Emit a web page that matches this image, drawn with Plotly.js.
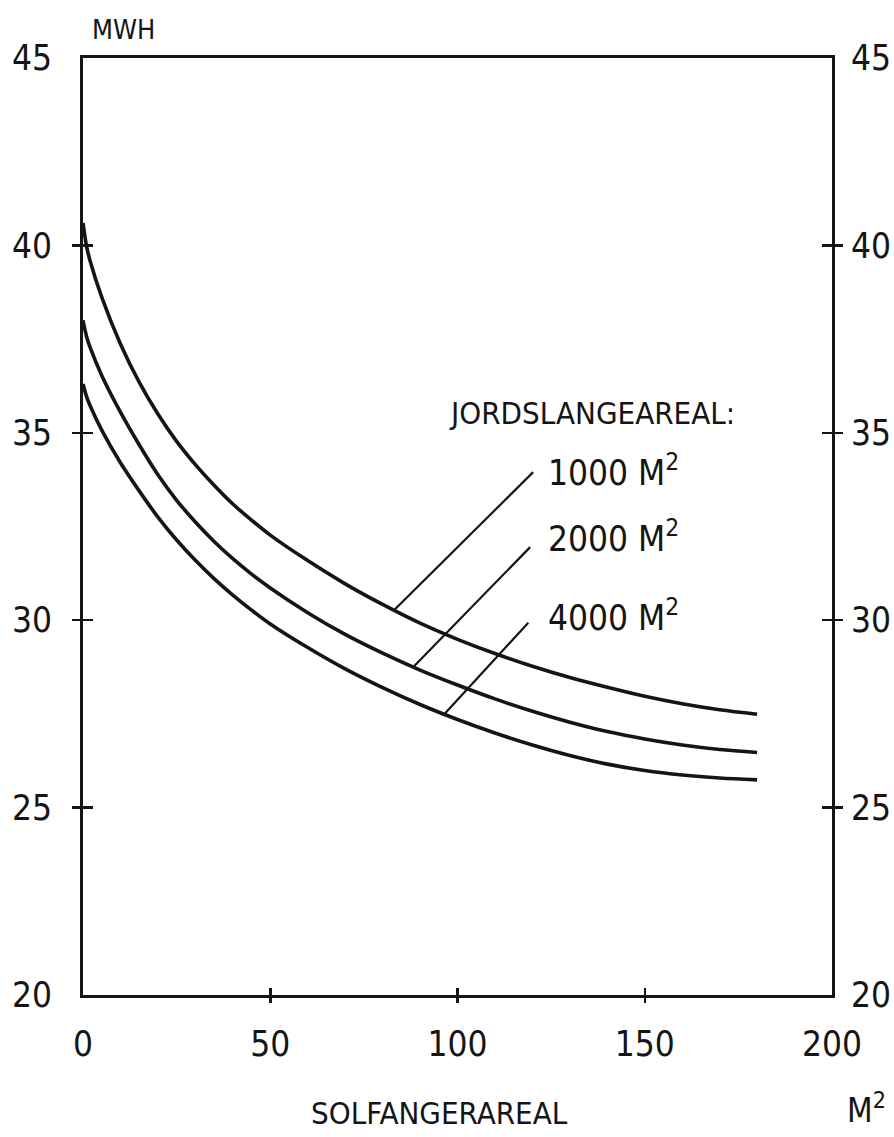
<!DOCTYPE html>
<html>
<head>
<meta charset="utf-8">
<script src="https://cdn.plot.ly/plotly-3.0.1.min.js"></script>
<style>
  html, body { margin: 0; padding: 0; background: #ffffff; }
  #chart { width: 894px; height: 1137px; }
</style>
</head>
<body>
<div id="chart"></div>
<script>
// ---- data ----
const solfangerAreal = [0, 1, 2, 5, 10, 15, 20, 25, 30, 35, 40, 45, 50, 60, 70, 80, 90, 100, 110, 120, 130, 140, 150, 160, 170, 180];
const mwh1000 = [40.6, 39.95, 39.55, 38.62, 37.37, 36.35, 35.5, 34.77, 34.15, 33.6, 33.1, 32.67, 32.27, 31.59, 30.97, 30.42, 29.92, 29.49, 29.11, 28.77, 28.47, 28.21, 27.97, 27.77, 27.61, 27.49];
const mwh2000 = [38.0, 37.55, 37.25, 36.53, 35.55, 34.68, 33.88, 33.2, 32.62, 32.1, 31.64, 31.23, 30.86, 30.2, 29.62, 29.12, 28.67, 28.27, 27.9, 27.57, 27.28, 27.03, 26.83, 26.67, 26.55, 26.47];
const mwh4000 = [36.3, 35.95, 35.7, 35.07, 34.2, 33.45, 32.75, 32.14, 31.6, 31.11, 30.67, 30.27, 29.9, 29.27, 28.7, 28.2, 27.75, 27.35, 26.99, 26.67, 26.39, 26.16, 25.99, 25.87, 25.79, 25.74];
const seriesLabels = ['1000 M<sup>2</sup>', '2000 M<sup>2</sup>', '4000 M<sup>2</sup>'];
const xTickVals = [0, 50, 100, 150, 200];
const xInnerTicks = [50, 100, 150];
const yTickVals = [20, 25, 30, 35, 40, 45];
const yInnerTicks = [25, 30, 35, 40];
// leader lines: point on curve -> label end
const leaderCurveX = [82.9, 88.2, 96.7];
const leaderCurveY = [30.25, 28.75, 27.52];
const leaderLabelX = [120.2, 119.4, 118.9];
const leaderLabelY = [33.95, 31.95, 29.93];
const labelTextX = [123.5, 123.5, 123.5];
const labelTextY = [34.0, 32.25, 30.15];

// ---- styling ----
const FONT = 'Liberation Sans Narrow, DejaVu Sans Condensed, Arial Narrow, sans-serif';
const INK = '#151515';

const curveData = [mwh1000, mwh2000, mwh4000];
const traces = curveData.map((ys, i) => ({
  x: solfangerAreal, y: ys, type: 'scatter', mode: 'lines',
  line: { color: INK, width: 3.6, shape: 'spline', smoothing: 0.9 },
  hoverinfo: 'skip', showlegend: false, name: seriesLabels[i]
}));

// hidden helper traces so the tick-only overlay axes exist
const helperPairs = [['x2','y'],['x3','y'],['x','y2'],['x','y3'],['x','y4'],['x','y5'],['x','y6']];
helperPairs.forEach(p => traces.push({
  x: [null], y: [null], xaxis: p[0], yaxis: p[1], type: 'scatter', mode: 'lines',
  hoverinfo: 'skip', showlegend: false
}));

const baseAxis = { showgrid: false, zeroline: false, fixedrange: true };
const tickOnlyX = (dir) => Object.assign({}, baseAxis, {
  overlaying: 'x', anchor: 'y', side: 'bottom', range: [0, 200],
  tickmode: 'array', tickvals: xInnerTicks, ticks: dir, ticklen: 7, tickwidth: 2.5, tickcolor: INK,
  showticklabels: false, showline: false
});
const tickOnlyY = (side, dir) => Object.assign({}, baseAxis, {
  overlaying: 'y', anchor: 'x', side: side, range: [20, 45],
  tickmode: 'array', tickvals: yInnerTicks, ticks: dir, ticklen: 10, tickwidth: 2.5, tickcolor: INK,
  showticklabels: false, showline: false
});

const annotations = [];
annotations.push({ text: 'MWH', xref: 'paper', yref: 'paper', x: 0.009, y: 1.0304, xanchor: 'left', yanchor: 'middle',
  showarrow: false, font: { family: FONT, size: 27, color: INK } });
annotations.push({ text: 'JORDSLANGEAREAL:', xref: 'x', yref: 'y', x: 97.3, y: 35.53, xanchor: 'left', yanchor: 'middle',
  showarrow: false, font: { family: FONT, size: 31, color: INK } });
seriesLabels.forEach((t, i) => annotations.push({
  text: t, xref: 'x', yref: 'y', x: labelTextX[i], y: labelTextY[i], xanchor: 'left', yanchor: 'middle',
  showarrow: false, font: { family: FONT, size: 35, color: INK }
}));
annotations.push({ text: 'SOLFANGERAREAL', xref: 'paper', yref: 'paper', x: 0.4766, y: -0.1259, xanchor: 'center', yanchor: 'middle',
  showarrow: false, font: { family: FONT, size: 31, color: INK } });
annotations.push({ text: 'M<sup>2</sup>', xref: 'paper', yref: 'paper', x: 1.0167, y: -0.121, xanchor: 'left', yanchor: 'middle',
  showarrow: false, font: { family: FONT, size: 33, color: INK } });

const shapes = leaderCurveX.map((x0, i) => ({
  type: 'line', xref: 'x', yref: 'y', x0: x0, y0: leaderCurveY[i], x1: leaderLabelX[i], y1: leaderLabelY[i],
  line: { color: INK, width: 2.2 }
}));

const layout = {
  width: 894, height: 1137,
  margin: { l: 83, r: 62, t: 58, b: 142, pad: 0 },
  paper_bgcolor: '#ffffff', plot_bgcolor: '#ffffff',
  showlegend: false,
  font: { family: FONT, color: INK },
  xaxis: Object.assign({}, baseAxis, {
    range: [0, 200], tickmode: 'array', tickvals: xTickVals, ticks: '',
    showline: true, linewidth: 3, linecolor: INK, mirror: true,
    tickfont: { family: FONT, size: 35, color: INK }, ticklabelstandoff: 16
  }),
  xaxis2: tickOnlyX('outside'),
  xaxis3: tickOnlyX('inside'),
  yaxis: Object.assign({}, baseAxis, {
    range: [20, 45], tickmode: 'array', tickvals: yTickVals, ticks: '',
    showline: true, linewidth: 3, linecolor: INK, mirror: true,
    tickfont: { family: FONT, size: 35, color: INK }, ticklabelstandoff: 21
  }),
  yaxis2: Object.assign({}, baseAxis, {
    overlaying: 'y', anchor: 'x', side: 'right', range: [20, 45],
    tickmode: 'array', tickvals: yTickVals, ticks: '', showline: false,
    tickfont: { family: FONT, size: 35, color: INK }, ticklabelstandoff: 18
  }),
  yaxis3: tickOnlyY('left', 'outside'),
  yaxis4: tickOnlyY('left', 'inside'),
  yaxis5: tickOnlyY('right', 'outside'),
  yaxis6: tickOnlyY('right', 'inside'),
  annotations: annotations,
  shapes: shapes
};

Plotly.newPlot('chart', traces, layout, { staticPlot: true, displayModeBar: false });
</script>
</body>
</html>
